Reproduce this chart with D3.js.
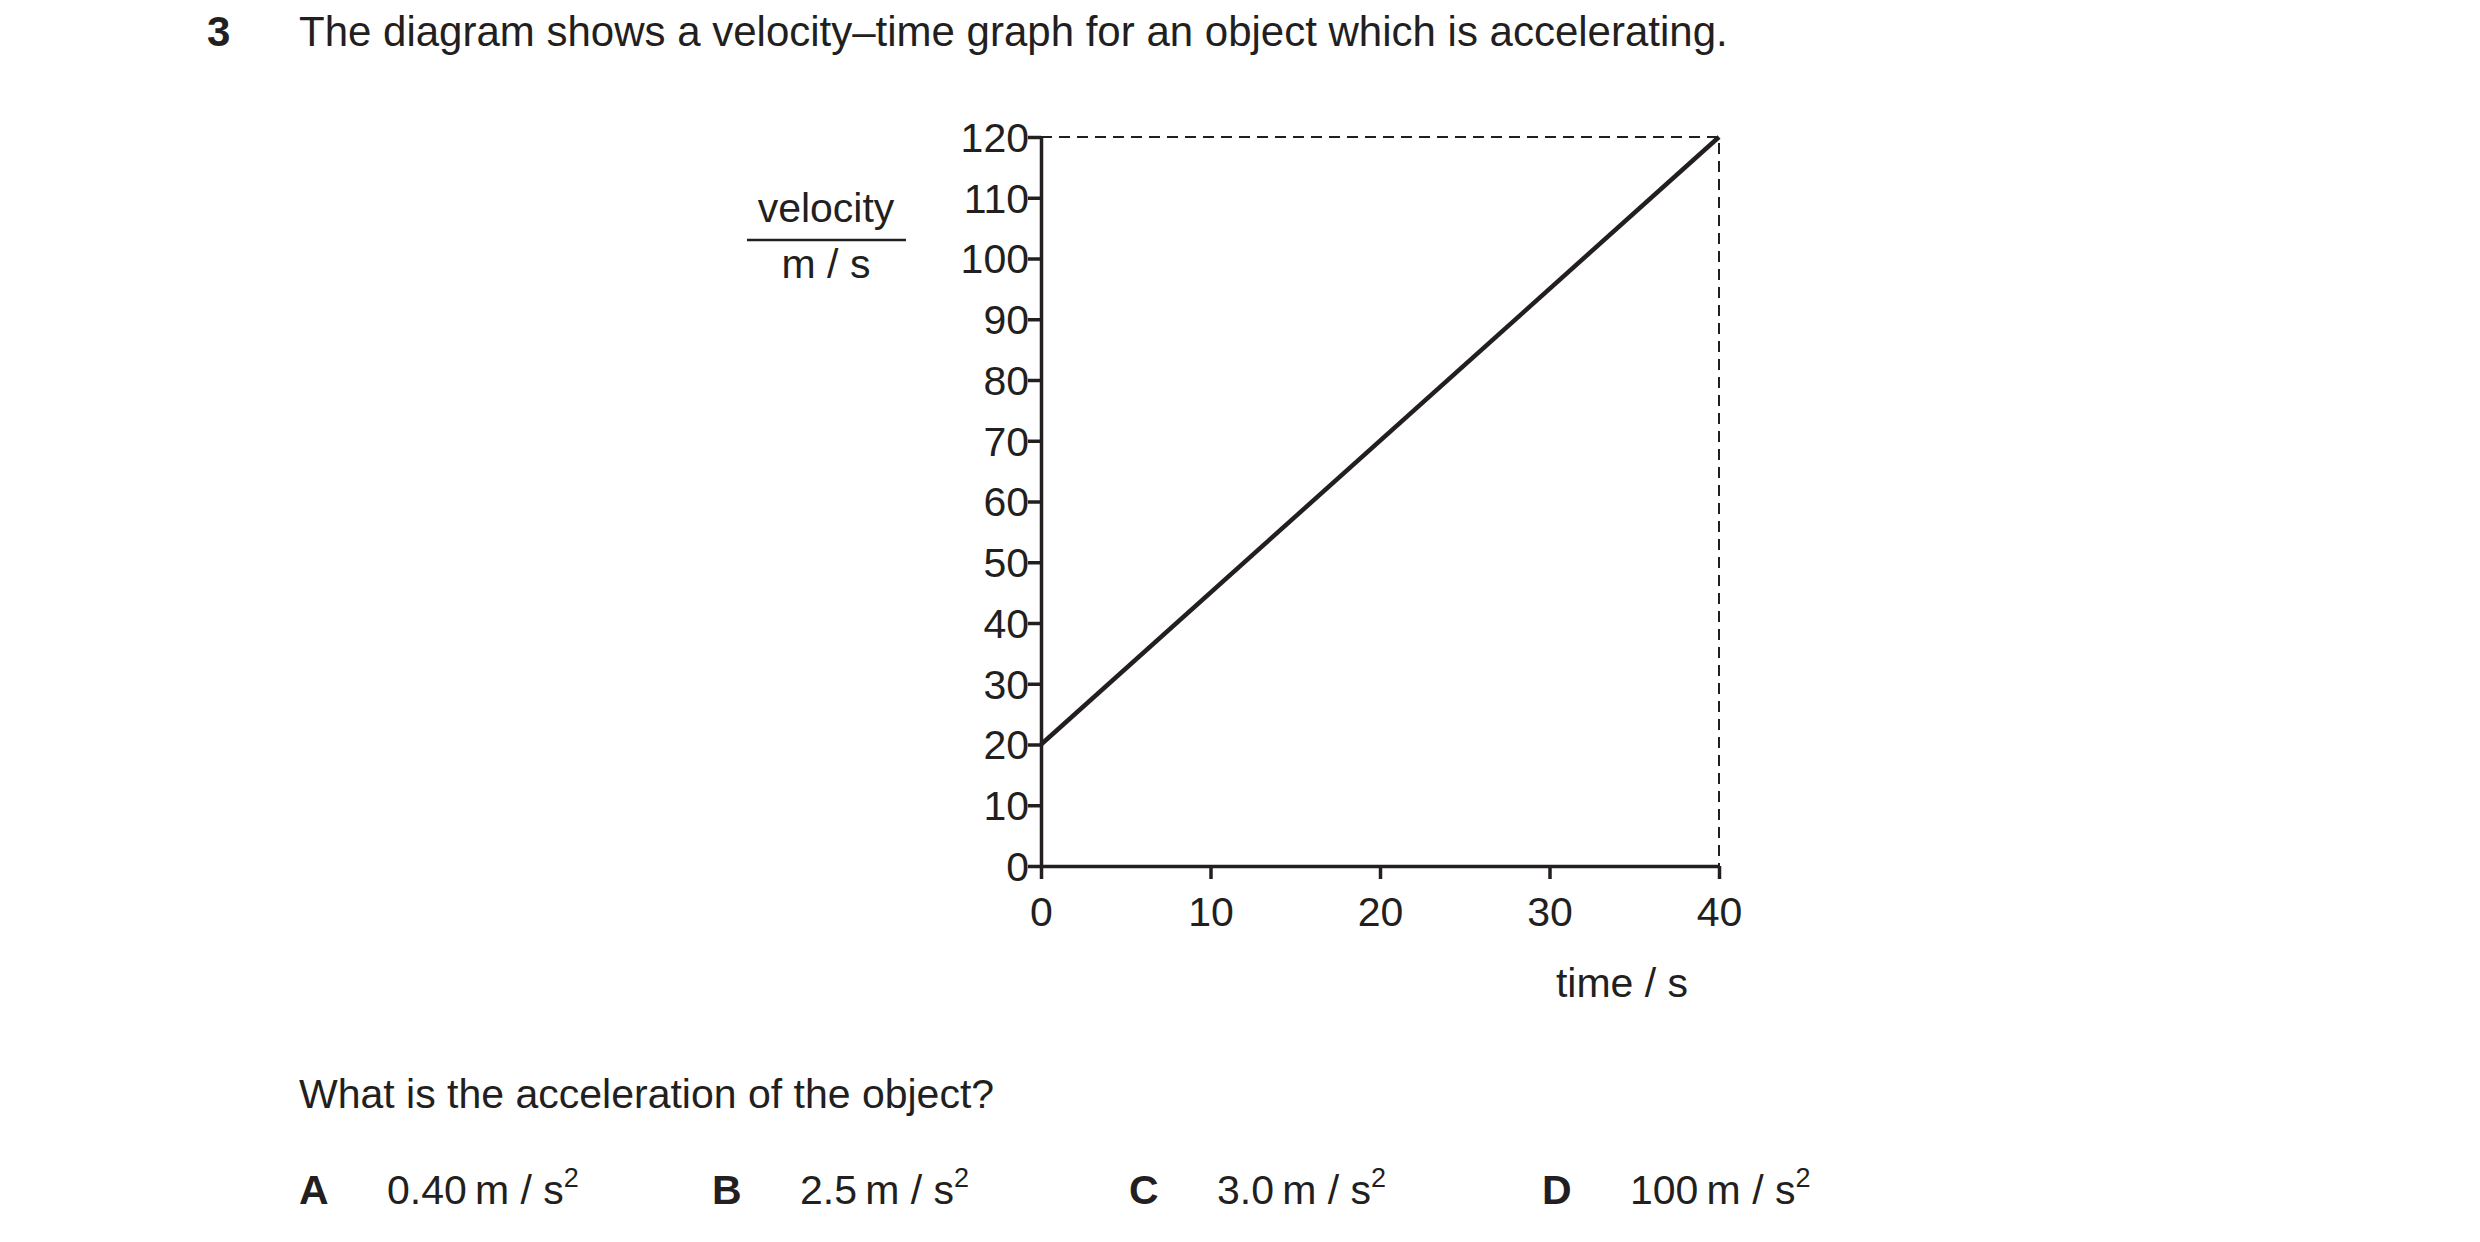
<!DOCTYPE html>
<html><head><meta charset="utf-8">
<script src="https://cdn.jsdelivr.net/npm/d3@7"></script>
<style>body{margin:0;background:#fff}text{font-family:"Liberation Sans",Arial,sans-serif;fill:#231f20}</style>
</head><body>
<svg id="chart" width="2480" height="1242"></svg>
<script>
const timeTicks = [0, 10, 20, 30, 40];
const velocityTicks = [0, 10, 20, 30, 40, 50, 60, 70, 80, 90, 100, 110, 120];
const lineTimes = [0, 40];
const lineVelocities = [20, 120];
const options = [["A", "0.40"], ["B", "2.5"], ["C", "3.0"], ["D", "100"]];

const svg = d3.select("#chart");
const ink = "#231f20";
const x = d3.scaleLinear().domain([0, 40]).range([1041, 1719]);
const y = d3.scaleLinear().domain([0, 120]).range([866, 137]);

// question text
svg.append("text").attr("x", 207).attr("y", 46).attr("font-size", 42).attr("font-weight", 700).text("3");
svg.append("text").attr("x", 299).attr("y", 46).attr("font-size", 42)
    .text("The diagram shows a velocity\u2013time graph for an object which is accelerating.");

// dashed guides
svg.append("path").attr("d", `M${x(0)},${y(120)}H${x(40)}V${y(0)}`)
    .attr("fill", "none").attr("stroke", ink).attr("stroke-width", 2).attr("stroke-dasharray", "11,7");

// axes
const ya = svg.append("g").attr("transform", `translate(${x(0)},0)`)
    .call(d3.axisLeft(y).tickValues(velocityTicks).tickSize(13).tickSizeOuter(0));
const xa = svg.append("g").attr("transform", `translate(0,${y(0)})`)
    .call(d3.axisBottom(x).tickValues(timeTicks).tickSize(13).tickSizeOuter(0));
[ya, xa].forEach(a => {
    a.selectAll("path,line").attr("stroke", ink).attr("stroke-width", 3.5);
    a.selectAll("text").attr("font-size", 41).attr("font-family", "Liberation Sans, Arial, sans-serif").attr("fill", ink);
});
ya.selectAll("text").attr("dy", "0.35em").attr("x", -12);
xa.selectAll("text").attr("dy", 0).attr("y", 60);

// data line
svg.append("path")
    .datum(lineTimes.map((t, i) => [t, lineVelocities[i]]))
    .attr("d", d3.line().x(d => x(d[0])).y(d => y(d[1])))
    .attr("fill", "none").attr("stroke", ink).attr("stroke-width", 4.5);

// axis labels
svg.append("text").attr("x", 826).attr("y", 222).attr("font-size", 41).attr("text-anchor", "middle").text("velocity");
svg.append("line").attr("x1", 747).attr("x2", 906).attr("y1", 240).attr("y2", 240).attr("stroke", ink).attr("stroke-width", 2.5);
svg.append("text").attr("x", 826).attr("y", 278).attr("font-size", 41).attr("text-anchor", "middle").text("m / s");
svg.append("text").attr("x", 1622).attr("y", 997).attr("font-size", 41).attr("text-anchor", "middle").text("time / s");

svg.append("text").attr("x", 299).attr("y", 1108).attr("font-size", 41).text("What is the acceleration of the object?");

const optX = [299, 712, 1129, 1542];
options.forEach((o, i) => {
    svg.append("text").attr("x", optX[i]).attr("y", 1204).attr("font-size", 41).attr("font-weight", 700).text(o[0]);
    const t = svg.append("text").attr("x", optX[i] + 88).attr("y", 1204).attr("font-size", 41);
    t.append("tspan").text(o[1] + "\u2009m / s");
    t.append("tspan").attr("font-size", 27).attr("dy", -17).text("2");
});
</script>
</body></html>
